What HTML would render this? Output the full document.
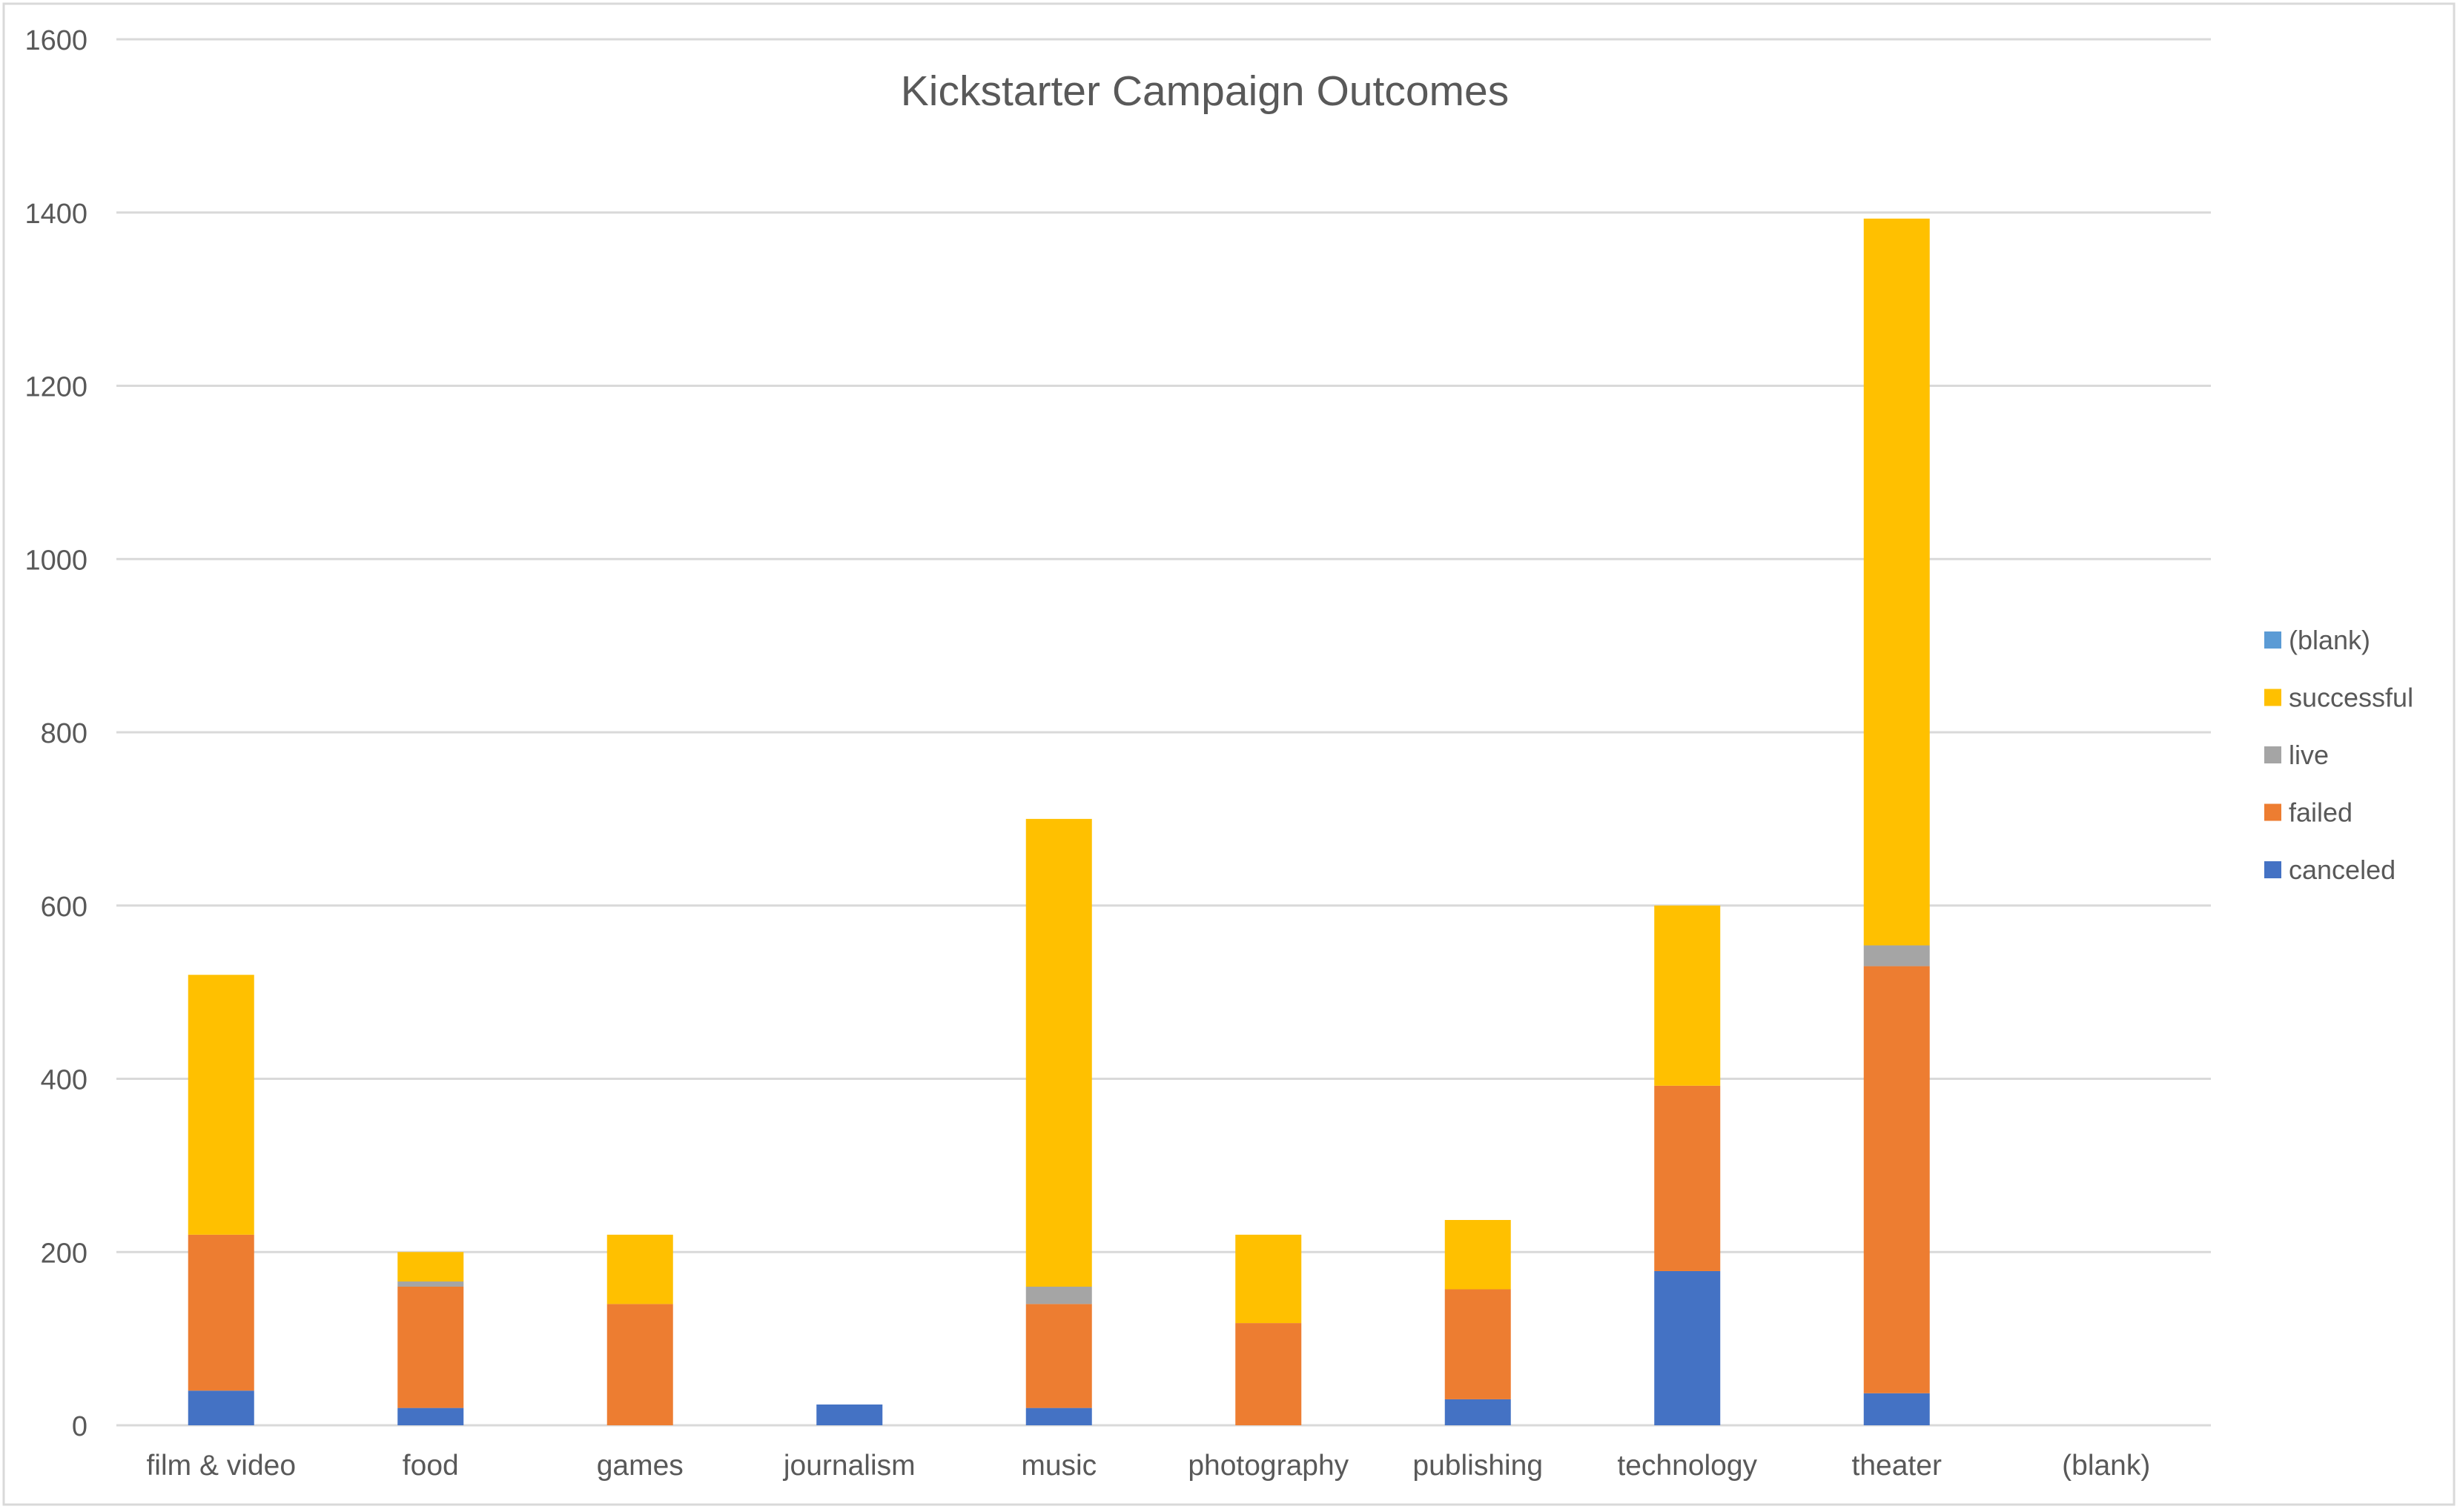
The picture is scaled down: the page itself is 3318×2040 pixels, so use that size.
<!DOCTYPE html>
<html><head><meta charset="utf-8"><style>
html,body{margin:0;padding:0;background:#fff;}
svg text{font-family:"Liberation Sans",sans-serif;fill:#595959;}
</style></head><body>
<svg id="chart" width="3318" height="2035" viewBox="0 0 3318 2035" xmlns="http://www.w3.org/2000/svg">
<rect x="5" y="5" width="3305" height="2025" fill="#fff" stroke="#d9d9d9" stroke-width="3"/>
<text x="1625" y="142" font-size="57" text-anchor="middle">Kickstarter Campaign Outcomes</text>
<g id="grid"></g><g id="bars"></g><g id="labels"></g><g id="legend"></g>
</svg>
<script>
const categories=["film & video","food","games","journalism","music","photography","publishing","technology","theater","(blank)"];
const canceled=[40,20,0,24,20,0,30,178,37,0];
const failed=[180,140,140,0,120,118,127,214,493,0];
const live=[0,6,0,0,20,0,0,0,24,0];
const successful=[300,34,80,0,540,102,80,208,839,0];
const blank=[0,0,0,0,0,0,0,0,0,0];
const yTicks=[0,200,400,600,800,1000,1200,1400,1600];
const seriesNames=["canceled","failed","live","successful","(blank)"];
const seriesData=[canceled,failed,live,successful,blank];
const colors=["#4472c4","#ed7d31","#a5a5a5","#ffc000","#5b9bd5"];
const NS="http://www.w3.org/2000/svg";
const L=157,R=2982,Y0=1923,Y1=53,YMAX=1600;
const y=v=>Y0-(v/YMAX)*(Y0-Y1);
const bw=(R-L)/categories.length;
const x=i=>L+bw*(i+0.5);
function mk(t,a,p){const e=document.createElementNS(NS,t);for(const k in a)e.setAttribute(k,a[k]);p.appendChild(e);return e;}
const grid=document.getElementById('grid'),bars=document.getElementById('bars'),labels=document.getElementById('labels'),legend=document.getElementById('legend');
yTicks.forEach(t=>{
  const g=mk('line',{x1:L,x2:R,y1:y(t),y2:y(t),stroke:'#d9d9d9','stroke-width':3},grid);
  
  
  const tx=mk('text',{x:118,y:y(t)+14,'font-size':38,'text-anchor':'end'},labels);
  tx.textContent=t;
  
  
});
categories.forEach((c,i)=>{
  let acc=0;
  seriesData.forEach((s,j)=>{
    const v=s[i];if(v<=0)return;
    const r=mk('rect',{x:x(i)-44.5,width:89,y:y(acc+v),height:y(acc)-y(acc+v),fill:colors[j]},bars);
    
    
    acc+=v;
  });
  const t=mk('text',{x:x(i),y:1990,'font-size':39,'text-anchor':'middle'},labels);
  t.textContent=c;
  
  
});
const order=[4,3,2,1,0];
order.forEach((j,k)=>{
  const yy=852+k*77.5;
  const r=mk('rect',{x:3054,y:yy,width:23,height:23,fill:colors[j]},legend);
  
  
  const t=mk('text',{x:3087,y:yy+24,'font-size':36},legend);
  t.textContent=seriesNames[j];
  
  
});
</script>
</body></html>
